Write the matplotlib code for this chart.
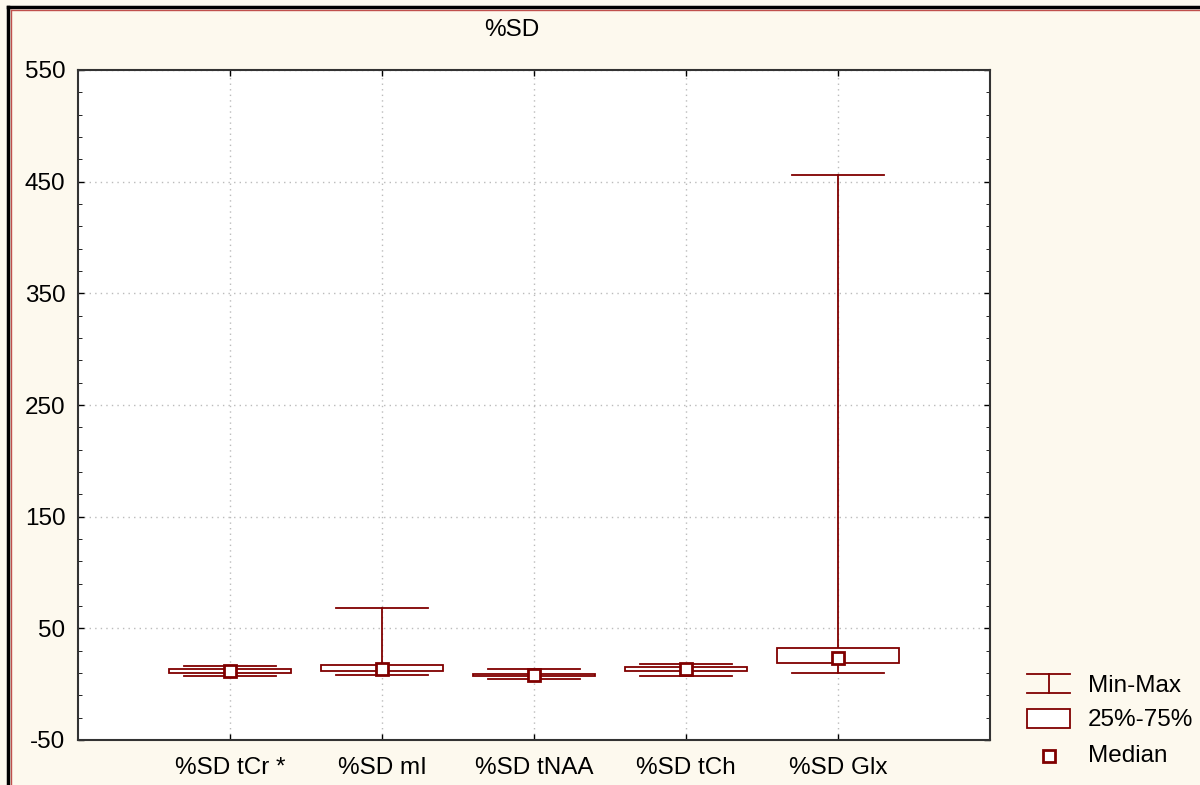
import numpy as np
import matplotlib.pyplot as plt
from matplotlib.lines import Line2D
from matplotlib.patches import Rectangle

plt.rcParams['font.family'] = ['Liberation Sans', 'DejaVu Sans']
plt.rcParams['axes.unicode_minus'] = False

# Dane
kategorie = ['%SD tCr *', '%SD mI', '%SD tNAA', '%SD tCh', '%SD Glx']
minimum = [7.3, 7.9, 4.6, 7.0, 10.0]
maksimum = [16.3, 68.2, 13.8, 18.1, 456.0]
q25 = [10.0, 11.8, 7.3, 11.8, 18.9]
q75 = [13.6, 17.2, 9.1, 15.0, 32.1]
mediana = [11.8, 13.8, 8.2, 13.8, 23.1]
y_ticki = [-50, 50, 150, 250, 350, 450, 550]

kolor = '#800000'
tlo = '#fdf9ee'
rozmiar = 17.5

fig = plt.figure(figsize=(12, 7.85), dpi=100, facecolor=tlo)
ax = fig.add_axes([78 / 1200, 45 / 785, 912 / 1200, 670 / 785])
ax.set_facecolor('white')

x = np.arange(1, len(kategorie) + 1)
szer_pudelka = 0.8
szer_wasow = 0.6

for i in range(len(kategorie)):
    # Wąsy min-max
    ax.plot([x[i], x[i]], [q75[i], maksimum[i]], color=kolor, lw=1.3, zorder=3)
    ax.plot([x[i], x[i]], [minimum[i], q25[i]], color=kolor, lw=1.3, zorder=3)
    ax.plot([x[i] - szer_wasow / 2, x[i] + szer_wasow / 2], [maksimum[i]] * 2, color=kolor, lw=1.3, zorder=3)
    ax.plot([x[i] - szer_wasow / 2, x[i] + szer_wasow / 2], [minimum[i]] * 2, color=kolor, lw=1.3, zorder=3)
    # Pudełko 25%-75%
    ax.add_patch(Rectangle((x[i] - szer_pudelka / 2, q25[i]), szer_pudelka, q75[i] - q25[i],
                           facecolor='white', edgecolor=kolor, lw=1.3, zorder=4))

# Mediana
ax.plot(x, mediana, ls='none', marker='s', ms=9, mfc='white', mec=kolor, mew=2, zorder=5)

ax.set_xlim(0, 6)
ax.set_ylim(-50, 550)
ax.set_xticks(x)
ax.set_xticklabels(kategorie, fontsize=rozmiar)
ax.set_yticks(y_ticki)
ax.set_yticks(np.arange(-50, 551, 20), minor=True)
ax.tick_params(axis='both', direction='in', top=True, right=True, labelsize=rozmiar, length=4, width=1)
ax.tick_params(axis='y', which='minor', direction='in', right=True, length=3)
ax.tick_params(axis='x', pad=12)
ax.tick_params(axis='y', pad=9)
ax.grid(True, color='#bbbbbb', ls=(0, (1, 3)), lw=1)
ax.set_axisbelow(True)
for s in ax.spines.values():
    s.set_color('#333333')
    s.set_linewidth(1.5)

fig.text(512 / 1200, 1 - 30 / 785, '%SD', ha='center', va='center', fontsize=rozmiar)

# Ramka
fig.add_artist(Line2D([8 / 1200, 1], [1 - 7 / 785] * 2, color='black', lw=2.5))
fig.add_artist(Line2D([8 / 1200, 8 / 1200], [0, 1 - 7 / 785], color='black', lw=2.5))
fig.add_artist(Line2D([10.5 / 1200, 1], [1 - 9.5 / 785] * 2, color='#c0504d', lw=1))
fig.add_artist(Line2D([10.5 / 1200, 10.5 / 1200], [0, 1 - 9.5 / 785], color='#c0504d', lw=1))

# Legenda (osie w pikselach obrazka)
lg = fig.add_axes([1000 / 1200, 0, 200 / 1200, 165 / 785])
lg.set_xlim(1000, 1200)
lg.set_ylim(785, 620)
lg.axis('off')
lg.plot([1027, 1070], [674, 674], color=kolor, lw=1.3)
lg.plot([1027, 1070], [693, 693], color=kolor, lw=1.3)
lg.plot([1048.5, 1048.5], [674, 693], color=kolor, lw=1.3)
lg.add_patch(Rectangle((1027, 709), 43, 19, facecolor='white', edgecolor=kolor, lw=1.3))
lg.plot([1048.5], [756], marker='s', ms=8.5, mfc='white', mec=kolor, mew=2)
lg.text(1088, 686, 'Min-Max', fontsize=rozmiar, va='center')
lg.text(1088, 720, '25%-75%', fontsize=rozmiar, va='center')
lg.text(1088, 756, 'Median', fontsize=rozmiar, va='center')

fig.savefig('out.png', dpi=100, facecolor=tlo)
